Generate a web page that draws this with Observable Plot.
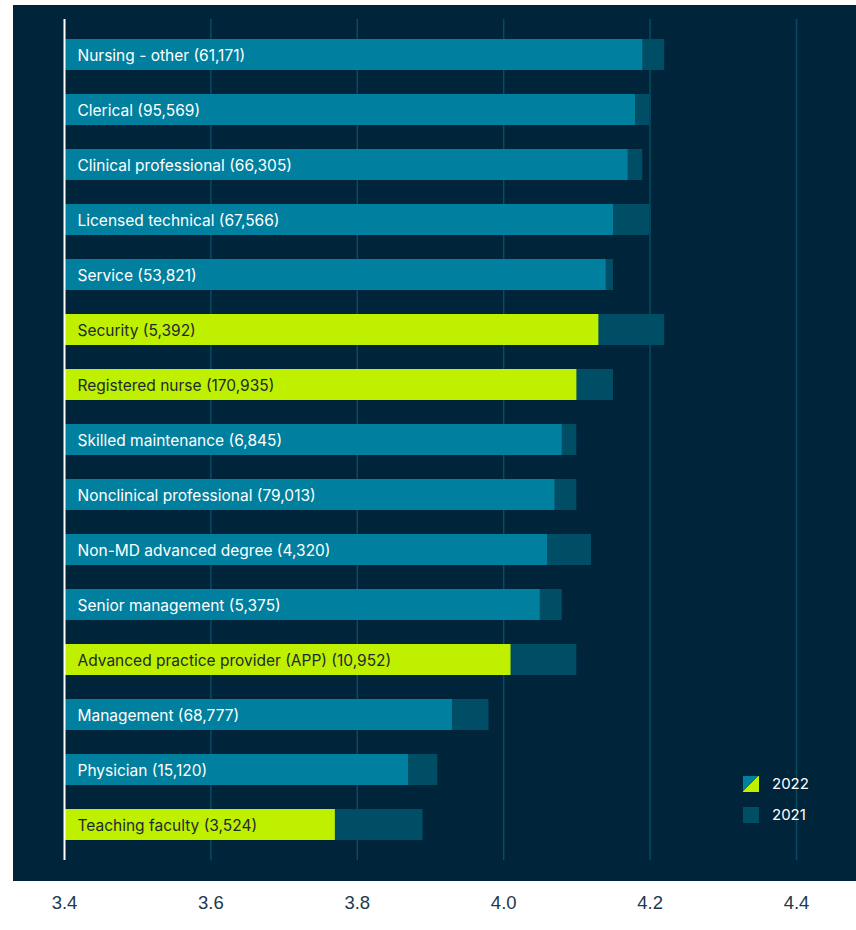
<!DOCTYPE html>
<html>
<head>
<meta charset="utf-8">
<script src="https://cdn.jsdelivr.net/npm/d3@7"></script>
<script src="https://cdn.jsdelivr.net/npm/@observablehq/plot@0.6"></script>
<style>
  html, body { margin: 0; padding: 0; background: #ffffff; }
  #wrap { position: relative; width: 856px; height: 930px; }
  #panel { position: absolute; left: 13px; top: 5px; width: 843px; height: 876px; background: #00243a; }
  #chart { position: absolute; left: 0; top: 0; }
  #legend { position: absolute; left: 743px; top: 775px; font-family: Inter, "Noto Sans", sans-serif; font-size: 15px; color: #ffffff; }
  .item { display: flex; align-items: center; height: 17px; margin-bottom: 14px; }
  .sw { width: 16px; height: 16px; margin-right: 13px; }
</style>
</head>
<body>
<div id="wrap">
  <div id="panel"></div>
  <div id="chart"></div>
  <div id="legend"></div>
</div>
<script>
const categories = [
  "Nursing - other", "Clerical", "Clinical professional", "Licensed technical", "Service",
  "Security", "Registered nurse", "Skilled maintenance", "Nonclinical professional",
  "Non-MD advanced degree", "Senior management", "Advanced practice provider (APP)",
  "Management", "Physician", "Teaching faculty"
];
const counts = ["61,171", "95,569", "66,305", "67,566", "53,821", "5,392", "170,935", "6,845",
  "79,013", "4,320", "5,375", "10,952", "68,777", "15,120", "3,524"];
const values2022 = [4.19, 4.18, 4.17, 4.15, 4.14, 4.13, 4.10, 4.08, 4.07, 4.06, 4.05, 4.01, 3.93, 3.87, 3.77];
const values2021 = [4.22, 4.20, 4.19, 4.20, 4.15, 4.22, 4.15, 4.10, 4.10, 4.12, 4.08, 4.10, 3.98, 3.91, 3.89];
const highlighted = [false, false, false, false, false, true, true, false, false, false, false, true, false, false, true];
const xTicks = [3.4, 3.6, 3.8, 4.0, 4.2, 4.4];
const seriesNames = ["2022", "2021"];

const C_BG = "#00243a", C_2022 = "#007f9e", C_2021 = "#004d66", C_LIME = "#bff000", C_GRID = "#0a4a62";

const rows = categories.map((c, i) => ({
  category: c, label: `${c} (${counts[i]})`,
  v2022: values2022[i], v2021: values2021[i], hi: highlighted[i]
}));

const chart = Plot.plot({
  width: 856,
  height: 930,
  marginLeft: 64,
  marginRight: 60,
  marginTop: 19,
  marginBottom: 70,
  style: { background: "transparent", fontFamily: "Inter, 'Noto Sans', sans-serif", overflow: "visible" },
  x: { domain: [3.4, 4.4], ticks: xTicks, tickFormat: d3.format(".1f") },
  y: { domain: categories, paddingInner: 0.436, paddingOuter: 0.363, axis: null },
  marks: [
    Plot.gridX(xTicks.filter(t => t > 3.4), { stroke: C_GRID, strokeOpacity: 1, strokeWidth: 1.5 }),
    Plot.barX(rows, { y: "category", x1: 3.4, x2: "v2021", fill: C_2021 }),
    Plot.barX(rows, { y: "category", x1: 3.4, x2: "v2022", fill: d => d.hi ? C_LIME : C_2022 }),
    Plot.ruleX([3.4], { stroke: "#ffffff", strokeWidth: 2 }),
    Plot.text(rows, { y: "category", x: 3.4, dx: 13, dy: 1, text: "label", textAnchor: "start",
      fill: d => d.hi ? "#1c2b33" : "#ffffff", fontSize: 15.5 }),
    Plot.axisX({ ticks: xTicks, tickSize: 0, tickPadding: 35, tickFormat: d3.format(".1f"),
      fontSize: 18.5, fill: "#22384c", fontFamily: "'Liberation Sans', Arial, sans-serif" })
  ]
});
document.getElementById("chart").appendChild(chart);

const legend = document.getElementById("legend");
seriesNames.forEach((name, i) => {
  const item = document.createElement("div");
  item.className = "item";
  const sw = document.createElement("div");
  sw.className = "sw";
  sw.style.background = i === 0
    ? `linear-gradient(135deg, ${C_2022} 50%, ${C_LIME} 50%)`
    : C_2021;
  const t = document.createElement("span");
  t.textContent = name;
  item.appendChild(sw); item.appendChild(t);
  legend.appendChild(item);
});
</script>
</body>
</html>
